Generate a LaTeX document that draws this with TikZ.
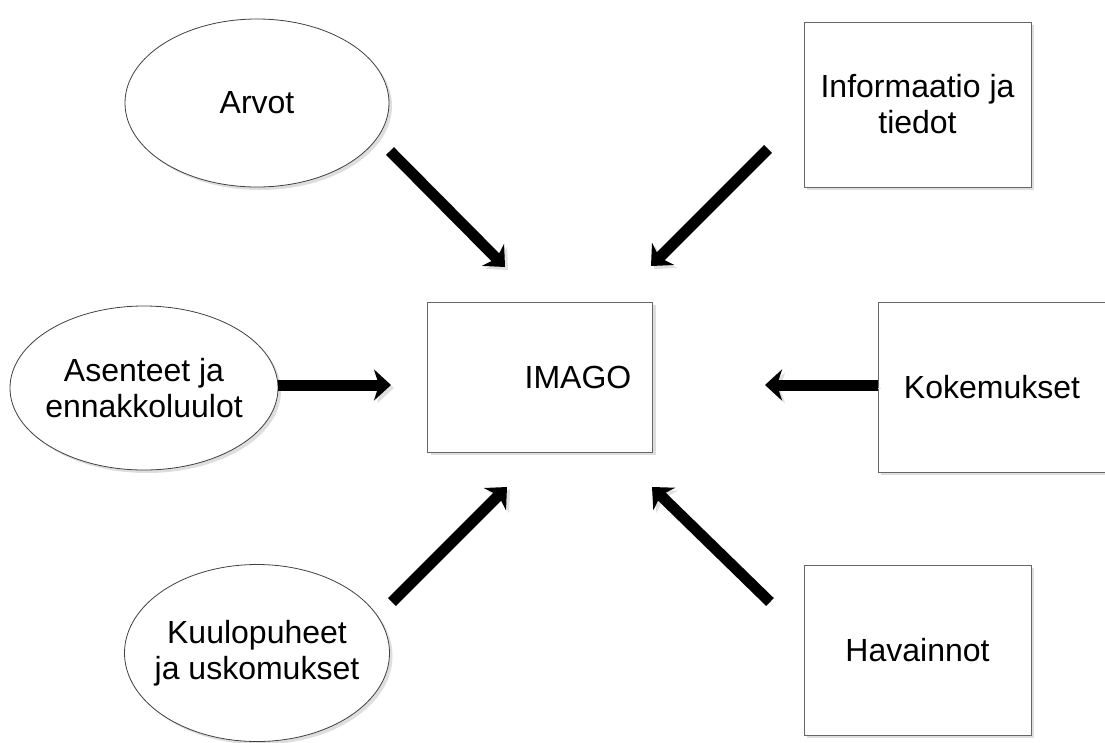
\documentclass[tikz,border=0pt]{standalone}
\usepackage{fontspec}
\setmainfont{Liberation Sans}
\usetikzlibrary{shapes.geometric,shadows,arrows.meta}

\tikzset{
  soft/.style={drop shadow={shadow xshift=3pt,shadow yshift=-3pt,fill=black!13,opacity=1}},
  oval/.style={ellipse,draw=black!75,line width=0.8pt,fill=white,soft,align=center,inner xsep=-20pt,inner ysep=0pt},
  box/.style={rectangle,draw=black!60,line width=1pt,fill=white,soft,align=center},
  bigarrow/.style={line width=11pt,-{Stealth[length=17pt,width=31pt,inset=5pt]},
    preaction={draw=black!12,transform canvas={xshift=3pt,yshift=-3pt}}}
}

\begin{document}
\begin{tikzpicture}[x=1pt,y=-1pt,font=\fontsize{32}{36}\selectfont]
\useasboundingbox (0,0) rectangle (1105,742);
\clip (0,0) rectangle (1105,742);
\node[oval,minimum width=264pt,minimum height=168pt] (Arvot) at (257,103){Arvot};
\node[oval,minimum width=268pt,minimum height=164pt] (Asenteet) at (144,388){Asenteet ja\\ennakkoluulot};
\node[oval,minimum width=265pt,minimum height=177pt] (Kuulo) at (257,653){Kuulopuheet\\ja uskomukset};
\node[box,minimum width=227pt,minimum height=165pt] (Info) at (917.5,104.5){Informaatio ja\\tiedot};
\node[box,minimum width=225pt,minimum height=150pt] (IMAGO) at (540,377){\hspace*{76pt}IMAGO};
\node[box,minimum width=228pt,minimum height=170pt] (Koke) at (992,387){Kokemukset};
\node[box,minimum width=227pt,minimum height=170pt] (Hava) at (917.5,650){Havainnot};
\foreach \from/\fs/\ts in {Arvot/{133,48}/{-35,-110},Info/{-149.5,44.5}/{111,-111},Asenteet/{134,-3}/{-149,8},Koke/{-114,-2}/{225,8},Kuulo/{135,-51}/{-33,110},Hava/{-147.5,-48}/{112,110}}
  \draw[bigarrow] ([shift={(\fs)}]\from.center) -- ([shift={(\ts)}]IMAGO.center);
\end{tikzpicture}
\end{document}
